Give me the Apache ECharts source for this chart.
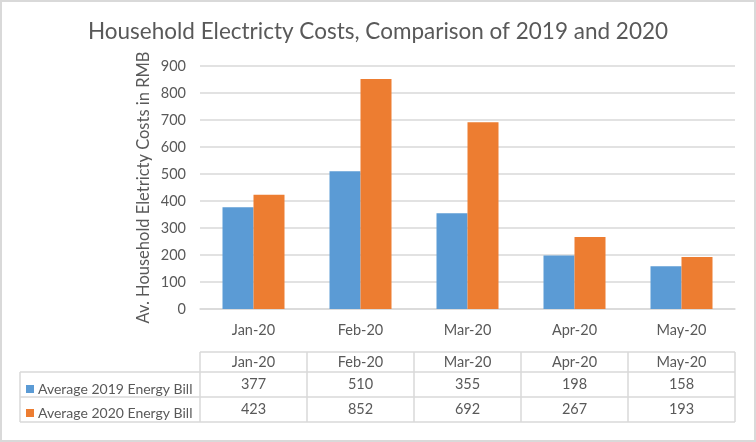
<!DOCTYPE html>
<html>
<head>
<meta charset="utf-8">
<script src="https://cdn.jsdelivr.net/npm/echarts@6/dist/echarts.min.js"></script>
<style>
html,body{margin:0;padding:0;background:#fff;}
#chart{width:756px;height:442px;}
</style>
</head>
<body>
<div id="chart"></div>
<script>
const categories = ['Jan-20', 'Feb-20', 'Mar-20', 'Apr-20', 'May-20'];
const bill2019 = [377, 510, 355, 198, 158];
const bill2020 = [423, 852, 692, 267, 193];
const seriesNames = ['Average 2019 Energy Bill', 'Average 2020 Energy Bill'];
const yTicks = { min: 0, max: 900, interval: 100 };

const FONT = 'Lato, "Open Sans", sans-serif';
const TXT = '#595959';
const LINE = '#d9d9d9';
const W = 756, H = 442;
const gridL = 200, gridR = 735, gridT = 66, gridB = 309;
const tableTop = 352, row1 = 372, row2 = 397, tableBot = 422, tableLeft = 20;

const chart = echarts.init(document.getElementById('chart'), null, { renderer: 'canvas' });

function tableAxis(data, offset) {
  return {
    type: 'category', data: data, gridIndex: 0, position: 'bottom', offset: offset,
    axisLine: { show: false }, axisTick: { show: false },
    axisLabel: { color: TXT, fontFamily: FONT, fontSize: 14.5, margin: 0, interval: 0, verticalAlign: 'middle' }
  };
}

const graphics = [];
function hline(x1, x2, y) { graphics.push({ type: 'line', silent: true, shape: { x1: x1, y1: y, x2: x2, y2: y }, style: { stroke: LINE, lineWidth: 1.5 } }); }
function vline(x, y1, y2) { graphics.push({ type: 'line', silent: true, shape: { x1: x, y1: y1, x2: x, y2: y2 }, style: { stroke: LINE, lineWidth: 1.5 } }); }
// outer frame
graphics.push({ type: 'rect', silent: true, shape: { x: 1, y: 1, width: W - 2, height: H - 2 }, style: { fill: null, stroke: LINE, lineWidth: 2 } });
hline(gridL, gridR, tableTop);
hline(tableLeft, gridR, row1);
hline(tableLeft, gridR, row2);
hline(tableLeft, gridR, tableBot);
vline(tableLeft, row1, tableBot);
const cw = (gridR - gridL) / categories.length;
for (let i = 0; i <= categories.length; i++) vline(gridL + i * cw, tableTop, tableBot);

const option = {
  animation: false,
  backgroundColor: '#fff',
  color: ['#5B9BD5', '#ED7D31'],
  title: {
    text: 'Household Electricty Costs, Comparison of 2019 and 2020',
    left: 'center', top: 15,
    textStyle: { color: TXT, fontFamily: FONT, fontSize: 22.5, fontWeight: 'normal' }
  },
  legend: {
    orient: 'vertical', left: 21, top: row1 + 5, itemGap: 10,
    icon: 'rect', itemWidth: 8, itemHeight: 8,
    textStyle: { color: TXT, fontFamily: FONT, fontSize: 14, padding: [0, 0, 0, -1] },
    data: seriesNames, selectedMode: false
  },
  grid: { left: gridL, right: W - gridR, top: gridT, bottom: H - gridB, containLabel: false },
  xAxis: [
    {
      type: 'category', data: categories,
      axisLine: { lineStyle: { color: LINE, width: 1.5 } },
      axisTick: { show: false },
      axisLabel: { color: TXT, fontFamily: FONT, fontSize: 14.5, margin: 21, verticalAlign: 'middle' }
    },
    tableAxis(categories, 53),
    tableAxis(bill2019.map(String), 75.5),
    tableAxis(bill2020.map(String), 100.5)
  ],
  yAxis: {
    type: 'value', min: yTicks.min, max: yTicks.max, interval: yTicks.interval,
    name: 'Av. Household Eletricty Costs in RMB', nameLocation: 'middle', nameGap: 48,
    nameMoveOverlap: false,
    nameTextStyle: { color: TXT, fontFamily: FONT, fontSize: 16.5 },
    axisLine: { show: false }, axisTick: { show: false },
    axisLabel: { color: TXT, fontFamily: FONT, fontSize: 14.5, margin: 14 },
    splitLine: { lineStyle: { color: LINE, width: 1.5 } }
  },
  series: [
    { name: seriesNames[0], type: 'bar', data: bill2019, barWidth: 31, barGap: '0%', xAxisIndex: 0 },
    { name: seriesNames[1], type: 'bar', data: bill2020, barWidth: 31, barGap: '0%', xAxisIndex: 0 }
  ],
  graphic: graphics
};
chart.setOption(option);
</script>
</body>
</html>
